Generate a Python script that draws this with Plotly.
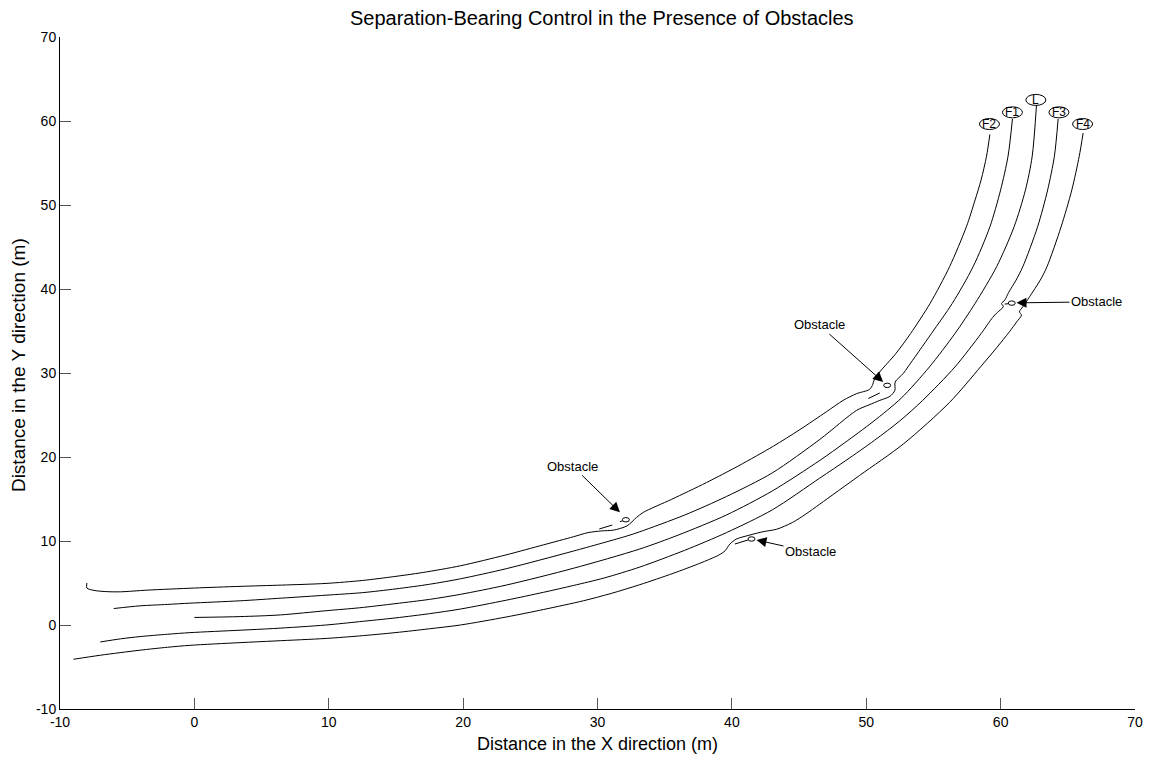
import plotly.graph_objects as go

# ---- trajectories (data units) ----
F2_x = [-8.0, -8.0, -7.4, -6.5, -5.5, -3.5, 0.0, 3.4, 6.5, 9.8, 12.5, 14.8, 17.0, 19.8, 23.2, 26.0, 28.2, 29.3, 30.3, 31.2, 32.2, 32.9, 33.4, 35.5, 38.1, 40.5, 43.1, 45.0, 47.05, 48.28, 49.28, 50.22, 50.45, 50.6, 51.0, 52.2, 53.3, 54.75, 56.2, 57.45, 58.1, 58.55, 58.95, 59.2]
F2_y = [5.0, 4.4, 4.1, 3.97, 3.95, 4.15, 4.4, 4.6, 4.75, 4.95, 5.3, 5.75, 6.25, 7.05, 8.35, 9.55, 10.5, 11.0, 11.2, 11.3, 11.8, 12.8, 13.4, 14.95, 16.95, 18.95, 21.3, 23.2, 25.4, 26.74, 27.54, 28.02, 28.5, 29.2, 30.12, 32.31, 34.7, 38.28, 42.65, 47.4, 50.6, 53.0, 55.8, 58.4]

F1_x = [-6.0, -4.05, -2.0, -0.33, 3.4, 6.5, 9.8, 12.5, 15.0, 17.5, 19.8, 23.2, 28.2, 32.2, 33.15, 36.5, 39.6, 43.0, 46.55, 49.28, 50.2, 51.01, 51.76, 52.13, 52.15, 52.75, 53.1, 54.85, 56.4, 57.95, 59.2, 60.0, 60.55, 60.88]
F1_y = [1.96, 2.28, 2.45, 2.6, 2.88, 3.2, 3.55, 3.85, 4.3, 4.85, 5.5, 6.7, 8.8, 10.6, 11.1, 13.1, 15.3, 18.1, 22.1, 25.55, 26.2, 26.74, 27.22, 27.93, 28.93, 29.93, 30.72, 34.7, 38.28, 42.65, 47.4, 51.8, 55.8, 60.24]

L_x = [0.0, 3.4, 6.4, 9.8, 12.3, 15.0, 17.5, 19.8, 23.2, 28.2, 33.15, 36.0, 39.6, 43.0, 46.55, 48.4, 50.5, 52.6, 54.7, 56.6, 58.1, 59.7, 61.0, 61.85, 62.35, 62.67]
L_y = [0.9, 1.0, 1.2, 1.7, 2.05, 2.55, 3.05, 3.65, 4.75, 6.75, 9.05, 10.7, 13.1, 15.95, 19.6, 21.7, 24.2, 27.0, 30.72, 34.7, 38.28, 42.65, 47.4, 51.8, 55.8, 61.95]

F3_x = [-7.0, -5.5, -4.05, -2.0, -0.33, 3.4, 5.9, 9.8, 12.3, 15.0, 17.5, 19.8, 23.2, 26.0, 28.2, 30.5, 33.15, 36.5, 39.6, 43.0, 46.55, 48.5, 50.6, 52.5, 54.2, 56.6, 58.55, 59.4, 59.75, 60.2, 60.07, 60.31, 60.6, 61.15, 61.65, 62.75, 63.5, 64.0, 64.28]
F3_y = [-2.02, -1.65, -1.38, -1.1, -0.91, -0.62, -0.42, 0.0, 0.4, 0.85, 1.35, 1.9, 2.95, 3.9, 4.7, 5.6, 6.9, 8.9, 11.0, 13.7, 17.5, 19.6, 21.97, 24.3, 26.74, 30.72, 34.7, 36.6, 37.2, 37.9, 38.28, 38.68, 39.6, 41.06, 42.65, 47.4, 51.8, 55.8, 60.24]

F4_x = [-9.0, -7.0, -4.05, -2.0, -0.33, 3.4, 6.0, 9.8, 12.3, 15.0, 17.5, 19.8, 23.2, 26.0, 28.94, 31.0, 33.15, 35.63, 37.62, 39.0, 39.5, 39.85, 40.35, 41.34, 42.33, 43.33, 44.5, 45.5, 46.55, 49.5, 52.8, 56.2, 58.5, 59.7, 60.65, 61.2, 61.55, 61.4, 61.65, 62.15, 62.95, 63.45, 64.5, 65.3, 65.85, 66.14]
F4_y = [-4.08, -3.6, -3.0, -2.65, -2.42, -2.1, -1.9, -1.6, -1.3, -0.9, -0.45, 0.0, 0.95, 1.85, 2.88, 3.75, 4.8, 6.15, 7.35, 8.3, 8.84, 9.64, 10.24, 10.71, 11.11, 11.4, 12.2, 13.2, 14.4, 17.8, 21.6, 26.5, 30.72, 33.0, 34.9, 36.09, 36.89, 37.28, 37.88, 39.07, 41.06, 42.65, 47.4, 51.8, 55.8, 58.57]

# short deviation segments next to the obstacles (None = gap)
seg_x = [30.13, 31.1, None, 31.67, 31.97, None, 50.15, 51.0, None, 60.3, 60.6, None, 40.22, 41.2]
seg_y = [11.43, 11.9, None, 12.3, 12.45, None, 26.96, 27.62, None, 38.2, 38.26, None, 9.64, 10.12]

# obstacles
obstacle_x = [32.11, 51.56, 60.83, 41.46]
obstacle_y = [12.53, 28.53, 38.32, 10.24]
# annotation arrow tips and text offsets (pixels)
arrow_x = [31.67, 51.26, 61.18, 41.83]
arrow_y = [13.41, 28.93, 38.35, 10.12]
arrow_ax = [-47, -64, 80, 54]
arrow_ay = [-46, -57, -1, 12]

# robot labels
label_text = ["F2", "F1", "L", "F3", "F4"]
label_x = [59.17, 60.88, 62.62, 64.34, 66.1]
label_y = [59.64, 61.03, 62.51, 61.03, 59.64]

x_ticks = [-10, 0, 10, 20, 30, 40, 50, 60, 70]
y_ticks = [-10, 0, 10, 20, 30, 40, 50, 60, 70]

FONT = "Liberation Sans, Arial, sans-serif"

fig = go.Figure()
for xs, ys in [(F2_x, F2_y), (F1_x, F1_y), (L_x, L_y), (F3_x, F3_y), (F4_x, F4_y)]:
    fig.add_trace(go.Scatter(x=xs, y=ys, mode="lines",
                             line=dict(color="black", width=1, shape="spline", smoothing=0.8),
                             hoverinfo="skip", showlegend=False))
fig.add_trace(go.Scatter(x=seg_x, y=seg_y, mode="lines", line=dict(color="black", width=1),
                         hoverinfo="skip", showlegend=False))

shapes = []
for ox, oy in zip(obstacle_x, obstacle_y):
    shapes.append(dict(type="circle", xref="x", yref="y", xsizemode="pixel", ysizemode="pixel",
                       xanchor=ox, yanchor=oy, x0=-3.5, x1=3.5, y0=-2.2, y1=2.2,
                       line=dict(color="black", width=1), fillcolor="white"))
for lx, ly in zip(label_x, label_y):
    shapes.append(dict(type="circle", xref="x", yref="y", xsizemode="pixel", ysizemode="pixel",
                       xanchor=lx, yanchor=ly, x0=-10, x1=10, y0=-5.5, y1=5.5,
                       line=dict(color="black", width=1), fillcolor="white"))

annotations = []
for tx, ty, ax, ay in zip(arrow_x, arrow_y, arrow_ax, arrow_ay):
    annotations.append(dict(x=tx, y=ty, xref="x", yref="y", ax=ax, ay=ay, text="Obstacle",
                            showarrow=True, arrowhead=2, arrowsize=2, arrowwidth=1,
                            arrowcolor="black", font=dict(family=FONT, size=13, color="black")))
for t, lx, ly in zip(label_text, label_x, label_y):
    annotations.append(dict(x=lx, y=ly, xref="x", yref="y", text=t, showarrow=False,
                            font=dict(family=FONT, size=12, color="black")))
annotations.append(dict(x=0.504, y=1.029, xref="paper", yref="paper", showarrow=False,
                        xanchor="center", yanchor="middle",
                        text="Separation-Bearing Control in the Presence of Obstacles",
                        font=dict(family=FONT, size=20, color="black")))
annotations.append(dict(x=0.5, y=-0.052, xref="paper", yref="paper", showarrow=False,
                        xanchor="center", yanchor="middle",
                        text="Distance in the X direction (m)",
                        font=dict(family=FONT, size=18, color="black")))
annotations.append(dict(x=-0.038, y=0.512, xref="paper", yref="paper", showarrow=False,
                        xanchor="center", yanchor="middle",
                        text="Distance in the Y direction (m)", textangle=-90,
                        font=dict(family=FONT, size=19, color="black")))

axis_common = dict(showgrid=False, zeroline=False, showline=True, linecolor="black", linewidth=1,
                   ticks="inside", ticklen=11, tickcolor="#555", tickwidth=1, mirror=False,
                   tickfont=dict(family=FONT, size=14, color="black"))
fig.update_layout(
    width=1155, height=761,
    margin=dict(l=60, r=20, t=37, b=52),
    paper_bgcolor="white", plot_bgcolor="white",
    shapes=shapes, annotations=annotations, showlegend=False,
    xaxis=dict(range=[-10, 70], tickvals=x_ticks, ticktext=[str(v) for v in x_ticks], **axis_common),
    yaxis=dict(range=[-10, 70], tickvals=y_ticks, ticktext=[str(v) for v in y_ticks], **axis_common),
)
fig.write_html("out.html", config={"displayModeBar": False},
               post_script="document.body.style.margin='0';document.body.style.overflow='hidden';")
